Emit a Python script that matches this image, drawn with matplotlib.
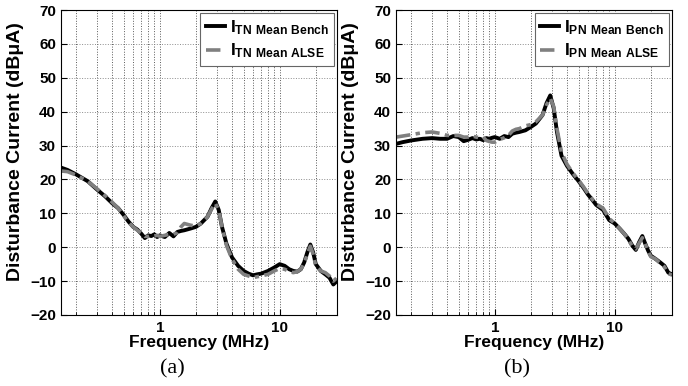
import matplotlib
matplotlib.use('Agg')
import matplotlib.pyplot as plt
from matplotlib.ticker import FixedLocator, NullFormatter

plt.rcParams['font.family'] = ['Liberation Sans', 'DejaVu Sans']
plt.rcParams['font.weight'] = 'bold'
plt.rcParams['mathtext.default'] = 'regular'

freq = [0.15, 0.17, 0.2, 0.25, 0.3, 0.35, 0.4, 0.45, 0.5, 0.55, 0.6, 0.65, 0.7, 0.75,
        0.8, 0.85, 0.9, 0.95, 1.0, 1.1, 1.2, 1.3, 1.4, 1.5, 1.6, 1.8, 2.0, 2.2, 2.5, 2.7,
        2.9, 3.1, 3.3, 3.6, 4.0, 4.5, 5, 5.5, 6, 6.5, 7, 8, 9, 10, 11, 12, 13, 14, 15,
        16, 17, 18, 19, 20, 22, 24, 26, 28, 30]

tn_bench = [23.5, 22.8, 21.5, 19.5, 17, 15, 13, 11.5, 9.5, 7.5, 6, 5.2, 4, 2.7,
            3.5, 3.3, 3.8, 3.0, 3.5, 3.0, 4.2, 3.2, 4.5, 4.8, 5.0, 5.5, 6.0, 7.0, 9.0, 11.5,
            13.5, 11, 6, 1, -3, -5.5, -7, -7.8, -8.3, -8, -7.8, -7, -6, -5, -5.5, -6.5, -7, -7.2, -6.5,
            -4.5, -1.5, 0.8, -1.5, -5, -7, -8, -9, -11, -10]
tn_alse = [22.5, 22.3, 21.3, 19.5, 17.2, 15.2, 13.3, 11.5, 9.3, 7.3, 6, 5.0, 4.2, 3.2,
           3.2, 3.5, 3.3, 3.5, 3.2, 3.5, 3.8, 3.8, 4.3, 6.0, 7.0, 6.5, 6.2, 7.0, 9.0, 11.2,
           13.0, 11, 6, 0.5, -3.5, -6.5, -8, -8.5, -9, -8.7, -8.5, -8, -7, -6.3, -6.5, -7.2, -7.5, -7.2, -6.5,
           -4.8, -2, 0.3, -2, -5.5, -7, -7.5, -8.5, -10, -9]

pn_bench = [30.5, 31, 31.5, 32, 32.2, 32, 32, 32.8, 32.5, 31.3, 31.7, 32.2, 31.8, 32,
            31.6, 32.2, 32, 32.3, 32.5, 32, 32.8, 32.5, 33.5, 33.8, 34, 34.5, 35.5, 36.5, 39, 42.5,
            44.8, 41, 34, 27, 24, 21.5, 19.5, 17.5, 15.5, 14, 12.5, 11, 8, 7, 5.5, 4, 2.5, 0.5, -0.8,
            1.5, 3.3, 1, -1, -2.5, -3.5, -4.5, -5.5, -7.5, -8]
pn_alse = [32.5, 32.8, 33.2, 33.8, 34, 33.6, 33, 33, 33, 32.5, 32.5, 32.8, 32.5, 32.3,
           32.5, 31.5, 31.2, 31, 31, 31.8, 32.3, 33, 34.3, 34.8, 35, 35.8, 36.2, 37, 39, 42,
           44, 41.5, 35, 28, 24.5, 21.8, 19.8, 17.8, 15.8, 14.2, 12.8, 11.5, 8.5, 7, 5.5, 4, 2.3, 0.3, -0.5,
           1.2, 2.8, 1, -1.2, -2.8, -3.5, -4.8, -5.8, -7.8, -8.2]

panels = [
    ('(a)', tn_bench, tn_alse, 'TN'),
    ('(b)', pn_bench, pn_alse, 'PN'),
]
yticks = [-20, -10, 0, 10, 20, 30, 40, 50, 60, 70]
major_x = [1, 10]
minor_x = [0.2, 0.3, 0.4, 0.5, 0.6, 0.7, 0.8, 0.9, 2, 3, 4, 5, 6, 7, 8, 9, 20, 30]

fig = plt.figure(figsize=(6.88, 3.86), dpi=100)
lefts = [0.0887, 0.5756]
cap_x = [0.250, 0.752]
for (cap, bench, alse, sub), left, cx in zip(panels, lefts, cap_x):
    ax = fig.add_axes([left, 0.184, 0.401, 0.790])
    ax.semilogx(freq, bench, color='black', lw=2.8, label='I$_{%s\\ Mean\\ Bench}$' % sub)
    ax.semilogx(freq, alse, color='#808080', lw=2.6, ls='-.', dashes=(4, 1.5, 1.2, 1.5),
                label='I$_{%s\\ Mean\\ ALSE}$' % sub)
    ax.set_xlim(0.15, 30)
    ax.set_ylim(-20, 70)
    ax.set_yticks(yticks)
    ax.xaxis.set_major_locator(FixedLocator(major_x))
    ax.xaxis.set_minor_locator(FixedLocator(minor_x))
    ax.xaxis.set_minor_formatter(NullFormatter())
    ax.set_xticklabels(['1', '10'])
    ax.tick_params(which='both', direction='in', labelsize=11)
    ax.tick_params(which='major', length=4)
    ax.tick_params(which='minor', length=2)
    ax.tick_params(axis='x', pad=4)
    ax.grid(True, which='both', axis='x', ls=':', color='0.35', lw=0.7)
    ax.grid(True, which='major', axis='y', ls=':', color='0.55', lw=0.7)
    for lab in ax.get_xticklabels() + ax.get_yticklabels():
        lab.set_fontweight('bold')
    ax.set_xlabel('Frequency (MHz)', fontsize=12.5, fontweight='bold', labelpad=0)
    ax.set_ylabel('Disturbance Current (dBμA)', fontsize=14, fontweight='bold')
    ax.yaxis.set_label_coords(-0.135, 0.535)
    leg = ax.legend(loc='upper right', handlelength=1.1, handletextpad=0.3,
                    borderpad=0.3, labelspacing=0.3, fancybox=False, framealpha=1,
                    borderaxespad=0.15, prop={'weight': 'bold', 'size': 12.5})
    leg.get_frame().set_edgecolor('0.4')
    leg.get_frame().set_linewidth(0.8)
    for spine in ax.spines.values():
        spine.set_linewidth(0.8)
    fig.text(cx, 0.045, cap, family='Liberation Serif', fontsize=16,
             fontweight='normal', ha='center', va='center')

fig.savefig('out.png', dpi=100)
